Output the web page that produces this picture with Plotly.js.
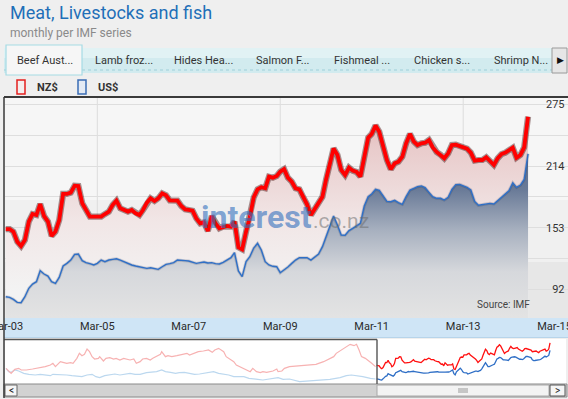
<!DOCTYPE html>
<html><head><meta charset="utf-8">
<script src="https://cdn.plot.ly/plotly-3.0.1.min.js"></script>
<style>html,body{margin:0;padding:0;background:#efefef;overflow:hidden}#chart{width:568px;height:399px}</style>
</head><body><div id="chart"></div>
<script>
// ---------- DATA ----------
const monthDates = [
'2003-03','2003-04','2003-05','2003-06','2003-07','2003-08','2003-09','2003-10','2003-11','2003-12',
'2004-01','2004-02','2004-03','2004-04','2004-05','2004-06','2004-07','2004-08','2004-09','2004-10','2004-11','2004-12',
'2005-01','2005-02','2005-03','2005-04','2005-05','2005-06','2005-07','2005-08','2005-09','2005-10','2005-11','2005-12',
'2006-01','2006-02','2006-03','2006-04','2006-05','2006-06','2006-07','2006-08','2006-09','2006-10','2006-11','2006-12',
'2007-01','2007-02','2007-03','2007-04','2007-05','2007-06','2007-07','2007-08','2007-09','2007-10','2007-11','2007-12',
'2008-01','2008-02','2008-03','2008-04','2008-05','2008-06','2008-07','2008-08','2008-09','2008-10','2008-11','2008-12',
'2009-01','2009-02','2009-03','2009-04','2009-05','2009-06','2009-07','2009-08','2009-09','2009-10','2009-11','2009-12',
'2010-01','2010-02','2010-03','2010-04','2010-05','2010-06','2010-07','2010-08','2010-09','2010-10','2010-11','2010-12',
'2011-01','2011-02','2011-03','2011-04','2011-05','2011-06','2011-07','2011-08','2011-09','2011-10','2011-11','2011-12',
'2012-01','2012-02','2012-03','2012-04','2012-05','2012-06','2012-07','2012-08','2012-09','2012-10','2012-11','2012-12',
'2013-01','2013-02','2013-03','2013-04','2013-05','2013-06','2013-07','2013-08','2013-09','2013-10','2013-11','2013-12',
'2014-01','2014-02','2014-03','2014-04','2014-05','2014-06','2014-07','2014-08'];

const nzPrice = [
151.8,151.8,149.2,139.3,135.0,141.0,159.1,166.6,165.6,176.5,
164.6,159.1,144.9,149.2,160.7,186.4,186.4,187.7,194.6,194.3,
177.2,171.2,164.0,164.0,164.0,164.0,166.6,168.9,175.5,179.8,
172.2,170.6,169.0,170.6,167.3,165.6,170.6,177.8,182.1,179.5,
182.1,187.0,185.1,180.1,179.8,179.8,174.5,171.2,170.6,169.9,
162.3,157.4,158.4,149.8,164.6,157.4,152.5,154.1,154.8,154.1,
159.1,133.7,131.7,149.2,163.3,183.0,191.0,193.0,192.0,203.5,
202.5,204.1,208.4,211.0,202.5,198.5,192.0,191.0,183.1,176.2,
165.6,171.9,177.2,183.7,200.2,216.0,231.4,224.9,210.1,205.1,
212.4,209.4,208.1,203.5,224.9,242.0,245.6,254.0,247.9,232.4,
219.9,210.7,216.6,218.3,223.2,236.4,245.6,238.0,234.7,236.4,
237.0,239.7,232.4,227.8,225.2,221.6,226.5,234.7,235.1,233.7,
232.4,231.1,227.2,219.3,219.9,219.9,222.6,218.3,215.0,221.6,
225.8,227.2,229.8,232.1,222.2,224.9,232.4,262.7];

const usPrice = [
85.0,84.4,82.4,79.4,79.1,85.0,93.3,97.5,99.8,110.7,
107.4,105.4,99.8,98.2,104.1,115.3,117.9,121.2,126.8,127.1,
120.6,118.6,117.6,116.3,117.9,121.2,119.6,121.2,121.9,122.5,
121.2,119.6,117.6,116.3,115.3,114.6,114.0,113.0,113.6,113.0,
112.0,114.6,116.9,117.6,118.6,121.2,121.2,120.6,120.2,118.9,
117.9,118.6,119.2,118.3,118.6,117.6,117.3,118.9,121.2,123.5,
128.5,110.4,104.8,119.6,124.5,133.0,137.7,131.1,119.6,116.3,
115.0,114.6,108.7,111.4,114.3,117.9,121.2,123.5,123.5,123.5,
121.2,124.5,127.1,134.4,143.3,154.1,164.6,155.8,145.9,145.6,
150.2,152.5,154.8,157.4,174.5,183.7,186.4,191.0,190.0,184.4,
179.1,178.8,180.1,177.8,176.2,183.7,190.3,192.0,193.6,194.3,
192.6,188.0,183.7,182.1,182.1,180.4,183.1,191.0,195.6,195.9,
194.3,193.0,190.3,179.1,175.2,175.8,176.8,177.1,176.5,179.8,
183.1,187.0,189.6,197.5,192.9,195.2,200.8,226.0];

// earlier history shown only in the navigator strip
const histNZDates = ['1978-10','1979-01','1979-02','1979-05','1979-08','1979-10','1980-02','1980-07','1981-01','1981-05',
'1981-09','1981-11','1982-01','1982-05','1982-07','1982-10','1983-01','1983-03','1983-06','1983-08',
'1983-10','1983-12','1984-02','1984-04','1984-06','1984-08','1984-11','1984-12','1985-03','1985-05',
'1985-08','1985-11','1986-01','1986-04','1986-07','1986-09','1986-12','1987-03','1987-05','1987-08',
'1987-10','1988-01','1988-04','1988-06','1988-09','1988-12','1989-01','1989-02','1989-04','1989-06',
'1989-09','1990-01','1990-03','1990-06','1990-09','1990-11','1991-03','1991-06','1991-10','1992-02',
'1992-05','1992-07','1992-10','1992-12','1993-02','1993-04','1993-07','1993-10','1993-12','1994-03',
'1994-06','1994-08','1994-11','1995-01','1995-04','1995-07','1995-09','1995-12','1996-03','1996-05',
'1996-08','1996-09','1996-12','1997-02','1997-06','1998-02','1998-10','1999-03','1999-09','2000-02',
'2000-05','2000-07','2000-10','2001-01','2001-03','2001-06','2001-09','2001-11','2002-01','2002-03',
'2002-06','2002-08','2002-11','2003-02'];
const histNZ = [137,117.2,112.3,132,137,128.8,128.8,133.7,140.3,145.3,
153.5,161.8,145.3,170,166.7,161.8,165,161.8,186.5,211.3,
199.7,206.3,232.7,219.5,194.8,183.2,186.5,194.8,173.3,186.5,
189.8,183.2,186.5,178.3,186.5,183.2,178.3,183.2,161.8,170,
183.2,186.5,178.3,186.5,194.8,206.3,219.5,211.3,194.8,199.7,
194.8,199.7,203,206.3,211.3,203,211.3,219.5,222.8,227.8,
216.2,227.8,236,227.8,219.5,194.8,183.2,170,153.5,145.3,
137,128.8,120.5,137,120.5,115.6,120.5,117.2,120.5,123.8,
133.7,120.5,123.8,137,145.3,150.2,153.5,156.8,170,183.2,
194.8,211.3,222.8,236,244.3,255.8,249.2,255.8,227.8,194.8,
186.5,178.3,161.8,145.3];

const histUSDates = ['1978-10','1978-12','1979-02','1979-05','1979-08','1979-12','1980-04','1980-09','1981-01','1981-06',
'1981-09','1981-11','1982-03','1982-06','1982-10','1983-02','1983-06','1983-10','1984-02','1984-06',
'1984-09','1984-12','1985-04','1985-08','1985-12','1986-04','1986-08','1986-12','1987-04','1987-08',
'1988-01','1988-05','1988-09','1989-01','1989-04','1989-08','1989-12','1990-03','1990-07','1990-11',
'1991-03','1991-07','1991-11','1992-03','1992-06','1992-10','1993-02','1993-06','1993-10','1994-02',
'1994-06','1994-10','1995-01','1995-05','1995-09','1996-01','1996-05','1996-09','1997-01','1997-06',
'1998-02','1998-10','1999-06','2000-02','2000-10','2001-03','2001-07','2001-11','2002-04','2002-10','2003-02'];
const histUS = [137,120.5,117.2,128.8,123.8,112.3,107.3,104,107.3,104,
100.7,107.3,107.3,107.3,104,100.7,99,95.8,104,107.3,
95.8,90.8,100.7,104,108.9,104,107.3,112.3,107.3,107.3,
115.6,117.2,120.5,128.8,120.5,117.2,112.3,115.6,117.2,112.3,
107.3,108.9,112.3,117.2,120.5,112.3,108.9,104,95.8,95.8,
95.8,87.5,84.2,82.6,79.3,82.6,87.5,90.8,82.6,84.2,
71,74.3,77.6,82.6,90.8,100.7,104,100.7,95.8,87.5,84.2];

const xTickDates  = ['2003-03-01','2005-03-01','2007-03-01','2009-03-01','2011-03-01','2013-03-01','2015-03-01'];
const xTickLabels = ['Mar-03','Mar-05','Mar-07','Mar-09','Mar-11','Mar-13','Mar-15'];
const xGridDates  = ['2005-03-01','2009-03-01','2013-03-01'];
const yTickVals   = [92,122.5,153,183.5,214,244.5,275];
const yTickLabels = ['\u200792','','153','','214','','275'];   // figure space keeps digits right-aligned
const tabLabels   = ['Beef Aust...','Lamb froz...','Hides Hea...','Salmon F...','Fishmeal ...','Chicken s...','Shrimp N...'];
const seriesNames = ['NZ$','US$'];

// ---------- LAYOUT HELPERS ----------
const W = 568, H = 399;
const FONT = 'Roboto, "DejaVu Sans", sans-serif';
function rect(x0,y0,x1,y1,fill,line,lw,layer){
  return {type:'rect',xref:'paper',yref:'paper',x0:x0/W,x1:x1/W,y0:1-y1/H,y1:1-y0/H,
    fillcolor:fill,line:{color:line||'rgba(0,0,0,0)',width:lw||0},layer:layer||'below'};
}
function seg(x0,y0,x1,y1,color,w,dash,layer){
  return {type:'line',xref:'paper',yref:'paper',x0:x0/W,x1:x1/W,y0:1-y0/H,y1:1-y1/H,
    line:{color:color,width:w,dash:dash||'solid'},layer:layer||'above'};
}
function txt(x,y,text,size,color,anchor,extra){
  return Object.assign({xref:'paper',yref:'paper',x:x/W,y:1-y/H,text:text,showarrow:false,
    xanchor:anchor||'left',yanchor:'middle',font:{family:FONT,size:size,color:color}},extra||{});
}

const shapes = [
  // header tabs strip
  rect(4,48,552,73,'#d2ebef'),
  rect(4,48,552,58,'#e1f2f4'),
  seg(4,70,552,70,'#9fcfd9',1,'dot','below'),
  rect(6,45,82,75,'#f6f6f6','#a6dbe4',1.2),
  rect(552,48,567,73,'#e6e6e6','#9a9a9a',1),
  // legend boxes
  rect(17,80,25,94,'#f4eeee','#e3201f',1.5,'above'),
  rect(78,80,86,94,'#e3eaf4','#3b6db5',1.5,'above'),
  // main plot background (stepped light gradient)
  rect(5,98,568,200,'#f6f6f6'),
  rect(5,200,568,262,'#f0f0f0'),
  rect(5,262,568,318,'#e7e7e7'),
  // x-axis band
  rect(4,318,568,338,'#cfe5f6'),
  seg(4,337.5,568,337.5,'#b7d4ea',1,'solid','below'),
  // navigator
  rect(5,339,566,384,'#ffffff'),
  seg(4,339.5,377,339.5,'#555555',1.6),
  seg(377,339.5,377,384,'#555555',1.4),
  // scrollbar
  rect(4,384,567,397,'#d2d2d2','#8a8a8a',1),
  rect(5,385,17,396,'#f5f5f5','#666666',1),
  rect(377,385,549,396,'#f3f3f3','#a8a8a8',1),
  rect(550,385,565,396,'#f5f5f5','#555555',1),
  seg(459,388,459,393,'#999',1), seg(461,388,461,393,'#999',1), seg(463,388,463,393,'#999',1),
  seg(465,388,465,393,'#999',1), seg(467,388,467,393,'#999',1),
  // frame
  seg(4,97,568,97,'#3a3a3a',2),
  seg(4,97,4,398,'#3a3a3a',1.5)
];
xGridDates.forEach(d => shapes.push({type:'line',xref:'x',yref:'y domain',x0:d,x1:d,y0:0,y1:1,
  line:{color:'#dcdcdc',width:1},layer:'below'}));

const tabCenters = [45,124,203,283,362,442,521];
const annotations = [
  txt(8,13,'Meat, Livestocks and fish',18,'#1f6fb8'),
  txt(8,33,'monthly per IMF series',12,'#8a8a8a'),
  txt(560,60,'\u25B6',9,'#111','center'),
  txt(35,87,'<b>'+seriesNames[0]+'</b>',11,'#333'),
  txt(96,87,'<b>'+seriesNames[1]+'</b>',11,'#333'),
  txt(532,304,'Source: IMF',10,'#444','right'),
  txt(256,217,'<b>interest</b>',32,'rgba(52,112,190,0.62)','center'),
  txt(311,221,'.co.nz',21,'rgba(110,110,110,0.55)','left'),
  txt(11,390.5,'<',10,'#222','center'),
  txt(557.5,390.5,'>',10,'#222','center')
];
tabLabels.forEach((t,i) => annotations.push(txt(tabCenters[i],60,t,11,'#333','center')));

// ---------- TRACES ----------
const traces = [
  {x:monthDates,y:nzPrice,type:'scatter',mode:'lines',fill:'tozeroy',line:{width:0,color:'rgba(0,0,0,0)'},
   fillgradient:{type:'vertical',start:90,stop:265,
     colorscale:[[0,'#f3f3f3'],[0.4,'#f1e6e6'],[0.8,'#e9cccc'],[1,'#e2b8b8']]},
   xaxis:'x',yaxis:'y',hoverinfo:'skip'},
  {x:monthDates,y:usPrice,type:'scatter',mode:'lines',fill:'tozeroy',line:{width:0,color:'rgba(0,0,0,0)'},
   fillgradient:{type:'vertical',start:65,stop:230,
     colorscale:[[0,'#e3e3e3'],[0.27,'#d6d8dc'],[0.52,'#a7b0bf'],[0.76,'#6a7b98'],[1,'#56688a']]},
   xaxis:'x',yaxis:'y',hoverinfo:'skip'},
  {x:monthDates,y:usPrice,type:'scatter',mode:'lines',line:{color:'rgba(20,40,80,0.18)',width:3},xaxis:'x',yaxis:'y'},
  {x:monthDates,y:usPrice,type:'scatter',mode:'lines',name:seriesNames[1],line:{color:'#2f6fc6',width:1.4},xaxis:'x',yaxis:'y'},
  {x:monthDates,y:nzPrice,type:'scatter',mode:'lines',line:{color:'rgba(60,0,0,0.42)',width:6.2},xaxis:'x',yaxis:'y'},
  {x:monthDates,y:nzPrice,type:'scatter',mode:'lines',name:seriesNames[0],line:{color:'#ff0000',width:3.8},xaxis:'x',yaxis:'y'},
  // navigator
  {x:histUSDates,y:histUS,type:'scatter',mode:'lines',line:{color:'#bcd8ef',width:1.2},xaxis:'x2',yaxis:'y2'},
  {x:histNZDates,y:histNZ,type:'scatter',mode:'lines',line:{color:'#f7b2b2',width:1.2},xaxis:'x2',yaxis:'y2'},
  {x:monthDates,y:usPrice,type:'scatter',mode:'lines',line:{color:'#2f6fc6',width:1.3},xaxis:'x2',yaxis:'y2'},
  {x:monthDates,y:nzPrice,type:'scatter',mode:'lines',line:{color:'#ff1010',width:1.3},xaxis:'x2',yaxis:'y2'}
];

const layout = {
  width:W,height:H,autosize:false,margin:{l:0,r:0,t:0,b:0},
  paper_bgcolor:'#efefef',plot_bgcolor:'rgba(0,0,0,0)',
  showlegend:false,hovermode:false,
  font:{family:FONT,size:11,color:'#333'},
  xaxis:{type:'date',domain:[5/W,1],range:['2003-02-23','2015-06-16'],anchor:'y',
    tickmode:'array',tickvals:xTickDates,ticktext:xTickLabels,ticklabeloverflow:'allow',
    showgrid:false,zeroline:false,showline:false,ticks:'',
    tickfont:{family:FONT,size:11,color:'#2a2a2a'},fixedrange:true},
  yaxis:{domain:[1-318/H,1-98/H],range:[64,281.1],anchor:'free',position:545/W,side:'right',
    tickmode:'array',tickvals:yTickVals,ticktext:yTickLabels,
    showgrid:true,gridcolor:'#dedede',gridwidth:1,zeroline:false,showline:false,ticks:'',
    tickfont:{family:FONT,size:11,color:'#333'},fixedrange:true},
  xaxis2:{type:'date',domain:[5/W,566/W],range:['1978-09-06','2015-08-20'],anchor:'y2',visible:false},
  yaxis2:{domain:[1-383/H,1-340/H],range:[64.4,277.3],anchor:'x2',visible:false},
  shapes:shapes,annotations:annotations
};

Plotly.newPlot('chart',traces,layout,{staticPlot:true,displayModeBar:false});
</script></body></html>
